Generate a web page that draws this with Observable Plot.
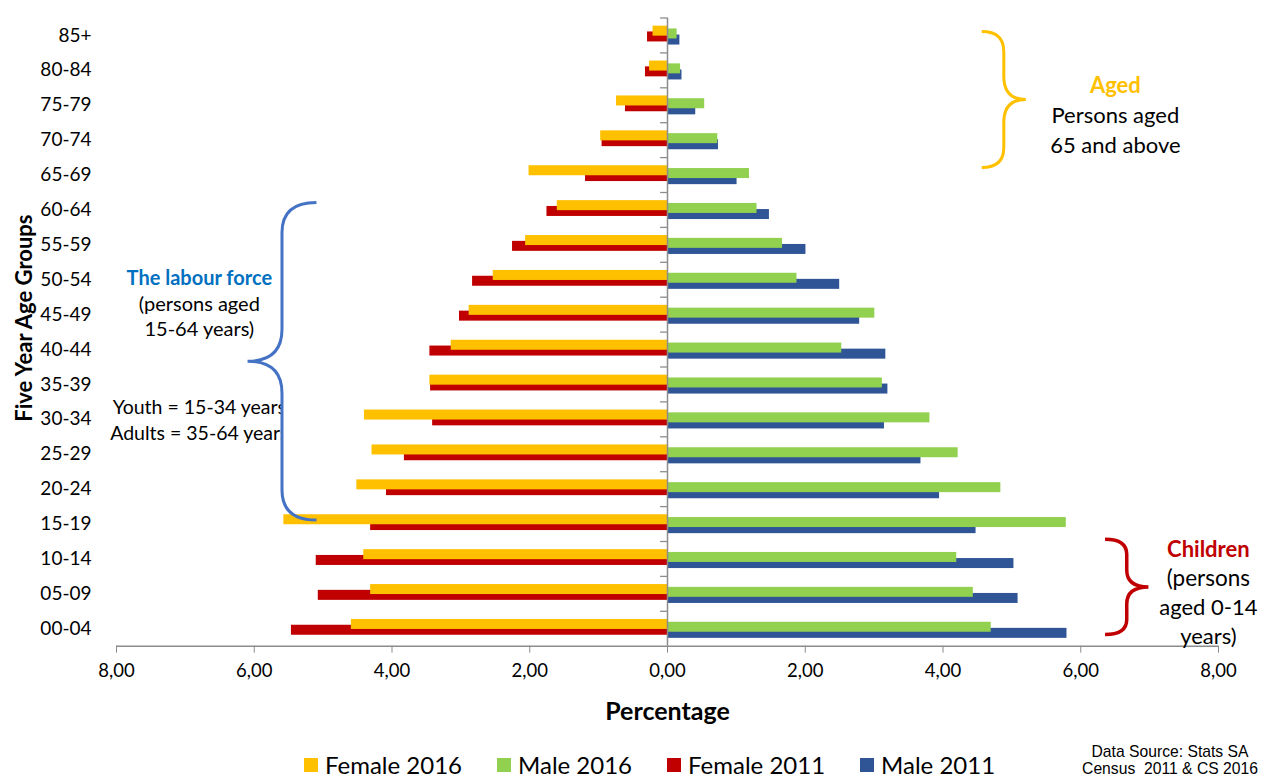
<!DOCTYPE html>
<html>
<head>
<meta charset="utf-8">
<script src="https://cdn.jsdelivr.net/npm/d3@7"></script>
<script src="https://cdn.jsdelivr.net/npm/@observablehq/plot@0.6"></script>
<style>
  body { margin: 0; background: #fff; font-family: Lato, sans-serif; }
  #wrap { position: relative; width: 1261px; height: 778px; overflow: hidden; }
  #legend { position: absolute; left: 304px; top: 753px; display: flex; gap: 35px; font-size: 24px; line-height: 24px; color: #000; white-space: nowrap; }
  #legend .item { display: flex; align-items: center; }
  #legend .sw { width: 14px; height: 14px; margin-right: 7px; }
  #source { position: absolute; left: 1080px; width: 180px; top: 743px; text-align: center; font-family: "Liberation Sans", Arial, sans-serif; font-size: 15.7px; line-height: 17px; color: #000; white-space: nowrap; }
</style>
</head>
<body>
<div id="wrap">
  <div id="chart"></div>
  <div id="legend"></div>
  <div id="source">Data Source: Stats SA<br>Census&nbsp; 2011 &amp; CS 2016</div>
</div>
<script>
// Five-year age groups, oldest at the top
const ages = ["85+", "80-84", "75-79", "70-74", "65-69", "60-64", "55-59", "50-54", "45-49",
  "40-44", "35-39", "30-34", "25-29", "20-24", "15-19", "10-14", "05-09", "00-04"];

// Share of the population (%) per age group
const female2016 = [0.21, 0.26, 0.74, 0.97, 2.01, 1.60, 2.06, 2.53, 2.88, 3.14, 3.45, 4.40, 4.29, 4.51, 5.57, 4.41, 4.31, 4.59];
const male2016   = [0.14, 0.19, 0.54, 0.73, 1.19, 1.30, 1.67, 1.88, 3.01, 2.53, 3.12, 3.81, 4.22, 4.84, 5.79, 4.20, 4.44, 4.70];
const female2011 = [0.29, 0.32, 0.61, 0.95, 1.19, 1.75, 2.25, 2.83, 3.02, 3.45, 3.44, 3.41, 3.82, 4.08, 4.31, 5.10, 5.07, 5.46];
const male2011   = [0.18, 0.21, 0.41, 0.74, 1.01, 1.48, 2.01, 2.50, 2.79, 3.17, 3.20, 3.15, 3.68, 3.95, 4.48, 5.03, 5.09, 5.80];

const xTicks = [-8, -6, -4, -2, 0, 2, 4, 6, 8];

const seriesNames = ["Female 2016", "Male 2016", "Female 2011", "Male 2011"];
const seriesColors = ["#FFC000", "#92D050", "#C00000", "#2F5597"];

// Layout
const W = 1261, H = 745;
const mt = 17.5, mb = 99.3, ml = 116, mr = 43;
const step = (H - mt - mb) / ages.length;
const barH = 10;
const inset = (step - barH) / 2;

// Series in drawing order (2011 underneath 2016); shift = vertical offset inside the band
const series = [
  {values: female2011, sign: -1, color: seriesColors[2], shift: 1.5},
  {values: male2011,   sign:  1, color: seriesColors[3], shift: 4.6},
  {values: female2016, sign: -1, color: seriesColors[0], shift: -4.3},
  {values: male2016,   sign:  1, color: seriesColors[1], shift: -1.5}
];

const fmt = d => Math.abs(d).toFixed(2).replace(".", ",");
const axisGray = "#8c8c8c";

const plot = Plot.plot({
  width: W,
  height: H,
  marginTop: mt, marginBottom: mb, marginLeft: ml, marginRight: mr,
  style: {fontFamily: "Lato, sans-serif", fontSize: "18px", color: "#000", background: "#fff", overflow: "visible"},
  x: {domain: [-8, 8], axis: null},
  y: {domain: ages, padding: 0, round: false, axis: null},
  marks: [
    ...series.map(s => Plot.barX(
      ages.map((a, i) => ({age: a, v: s.sign * s.values[i]})),
      {x1: 0, x2: "v", y: "age", fill: s.color, insetTop: inset, insetBottom: inset, dy: s.shift}
    )),
    // vertical axis at zero with tick marks between groups
    Plot.ruleX([0], {stroke: axisGray, strokeWidth: 1.5}),
    Plot.ruleY(ages, {y: d => d, x1: 0, x2: -0.1, dy: -step / 2, stroke: axisGray, strokeWidth: 1.3}),
    // horizontal axis line
    Plot.ruleY([ages[ages.length - 1]], {y: d => d, x1: -8, x2: 8, dy: step / 2, stroke: axisGray, strokeWidth: 1.5}),
    Plot.axisX({ticks: xTicks, tickFormat: fmt, tickSize: 7, tickPadding: 11, fontSize: 18.5, stroke: axisGray, fill: "#000", label: null}),
    Plot.axisY({anchor: "left", tickSize: 0, tickPadding: 25, fontSize: 19, fill: "#000", label: null}),
    Plot.text(["Percentage"], {frameAnchor: "bottom", lineAnchor: "middle", dy: 65.5, fontSize: 25, fontWeight: "bold", fill: "#000"}),
    Plot.text(["Five Year Age Groups"], {frameAnchor: "left", textAnchor: "middle", lineAnchor: "middle", rotate: -90, dx: -92, dy: -14, fontSize: 22, fontWeight: "bold", fill: "#000"})
  ]
});

document.getElementById("chart").appendChild(plot);

// Group annotations: braces and notes placed with the chart's scales
const sx = plot.scale("x");
const sy = plot.scale("y");
const y0 = sy.apply(ages[0]);
const yAt = v => y0 + v * step; // v = position in band units from the top

const svg = d3.select(plot);
const ann = svg.append("g").attr("font-family", "Lato, sans-serif");

function brace(xEnd, xTip, vTop, vBot, r1, r2) {
  const e = sx.apply(xEnd), t = sx.apply(xTip), m = (e + t) / 2;
  const a = yAt(vTop), b = yAt(vBot), c = (a + b) / 2;
  return `M${e},${a} Q${m},${a} ${m},${a + r1} L${m},${c - r2} Q${m},${c} ${t},${c} ` +
         `Q${m},${c} ${m},${c + r2} L${m},${b - r1} Q${m},${b} ${e},${b}`;
}

function note(x, v, lines, lh, opts = {}) {
  const g = ann.append("g");
  if (opts.clip) g.attr("clip-path", `url(#${opts.clip})`);
  lines.forEach((ln, i) => {
    g.append("text")
      .attr("x", sx.apply(x))
      .attr("y", yAt(v) + i * lh)
      .attr("text-anchor", "middle")
      .attr("dominant-baseline", "central")
      .attr("font-size", ln.size)
      .attr("font-weight", ln.bold ? "bold" : "normal")
      .attr("fill", ln.color || "#000")
      .text(ln.text);
  });
}

// Aged
ann.append("path").attr("d", brace(4.57, 5.21, 0.4, 4.3, 20, 23))
  .attr("fill", "none").attr("stroke", "#FFC000").attr("stroke-width", 3);
note(6.51, 1.934, [
  {text: "Aged", bold: true, color: "#FFC000", size: 22},
  {text: "Persons aged", size: 22},
  {text: "65 and above", size: 22}
], 30);

// Labour force
const labourEnd = -5.09, labourTip = -6.09;
const clipX = (sx.apply(labourEnd) + sx.apply(labourTip)) / 2;
svg.append("defs").append("clipPath").attr("id", "youthClip")
  .append("rect").attr("x", 0).attr("y", 0).attr("width", clipX).attr("height", H);
note(-6.79, 7.44, [
  {text: "The labour force", bold: true, color: "#0070C0", size: 20},
  {text: "(persons aged", size: 20},
  {text: "15-64 years)", size: 20}
], 25.5);
note(-6.79, 11.15, [
  {text: "Youth = 15-34 years", size: 19.5},
  {text: "Adults = 35-64 years", size: 19.5}
], 26, {clip: "youthClip"});
ann.append("path").attr("d", brace(labourEnd, labourTip, 5.3, 14.4, 30, 32))
  .attr("fill", "none").attr("stroke", "#4472C4").attr("stroke-width", 3);

// Children
ann.append("path").attr("d", brace(6.36, 6.99, 14.95, 17.68, 15, 17))
  .attr("fill", "none").attr("stroke", "#C00000").attr("stroke-width", 3.5);
note(7.86, 15.21, [
  {text: "Children", bold: true, color: "#C00000", size: 22},
  {text: "(persons", size: 22.5},
  {text: "aged 0-14", size: 22},
  {text: "years)", size: 22}
], 29);

// Legend
const legend = d3.select("#legend");
seriesNames.forEach((name, i) => {
  const item = legend.append("div").attr("class", "item");
  item.append("div").attr("class", "sw").style("background", seriesColors[i]);
  item.append("span").text(name);
});
</script>
</body>
</html>
